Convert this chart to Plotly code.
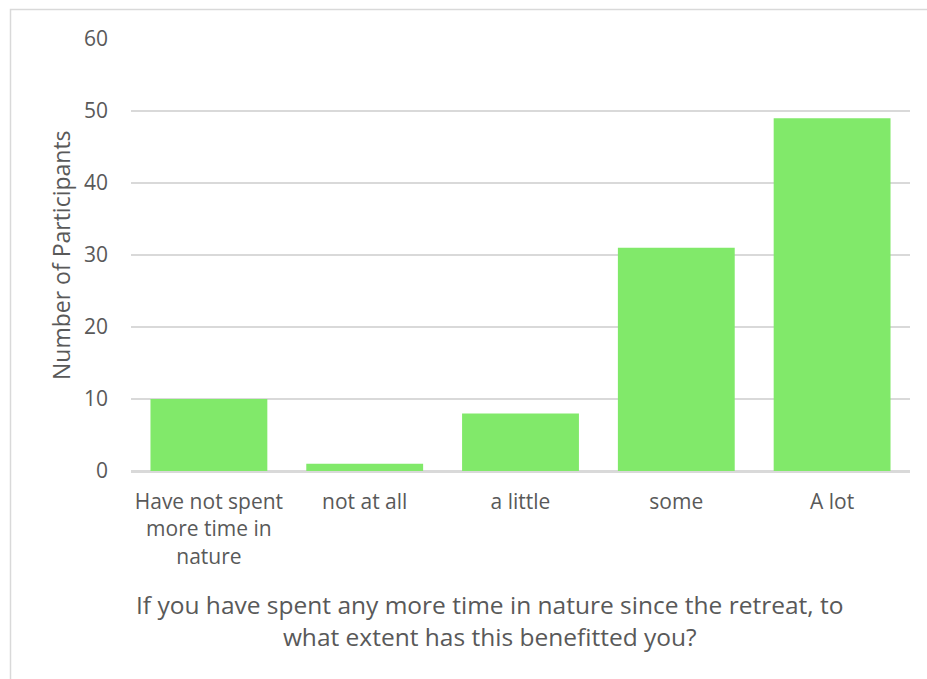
import plotly.graph_objects as go

# Survey responses
categories = [
    "Have not spent<br>more time in<br>nature",
    "not at all",
    "a little",
    "some",
    "A lot",
]
participants = [10, 1, 8, 31, 49]
y_ticks = [0, 10, 20, 30, 40, 50, 60]

x_title = ("If you have spent any more time in nature since the retreat, to<br>"
           "what extent has this benefitted you?")
y_title = "Number of Participants"

FONT = "Open Sans"
TEXT = "#595959"
GRID = "#D9D9D9"

W, H = 927, 679
L, R, T, B = 131, 17, 39, 208
pw, ph = W - L - R, H - T - B


def px_x(p):
    return (p - L) / pw


def px_y(p):
    return (H - B - p) / ph


fig = go.Figure(
    go.Bar(
        x=categories,
        y=participants,
        marker=dict(color="#81E96A", line=dict(width=0)),
        hoverinfo="x+y",
    )
)

fig.update_layout(
    width=W,
    height=H,
    margin=dict(l=L, r=R, t=T, b=B, autoexpand=False),
    paper_bgcolor="white",
    plot_bgcolor="white",
    bargap=0.25,
    showlegend=False,
    font=dict(family=FONT, color=TEXT, size=21),
    xaxis=dict(
        showgrid=False,
        showline=True,
        linecolor=GRID,
        linewidth=1.5,
        ticks="",
        tickfont=dict(size=21, color=TEXT),
        ticklabelstandoff=11,
        automargin=False,
    ),
    yaxis=dict(
        range=[0, 60],
        tickvals=y_ticks,
        showgrid=True,
        gridcolor=GRID,
        gridwidth=1.5,
        zeroline=True,
        zerolinecolor=GRID,
        zerolinewidth=1.5,
        showline=False,
        ticks="",
        tickfont=dict(size=21, color=TEXT),
        ticklabelstandoff=22,
        automargin=False,
    ),
    shapes=[
        dict(
            type="rect",
            xref="paper",
            yref="paper",
            x0=px_x(10.5),
            x1=px_x(940),
            y0=px_y(700),
            y1=px_y(9.5),
            line=dict(color=GRID, width=1.5),
            fillcolor="rgba(0,0,0,0)",
            layer="below",
        )
    ],
    annotations=[
        dict(
            text=x_title,
            xref="paper",
            yref="paper",
            x=px_x(489),
            y=px_y(620),
            xanchor="center",
            yanchor="middle",
            showarrow=False,
            font=dict(size=24.5, color=TEXT, family=FONT),
        ),
        dict(
            text=y_title,
            xref="paper",
            yref="paper",
            x=px_x(61),
            y=px_y(255),
            xanchor="center",
            yanchor="middle",
            textangle=-90,
            showarrow=False,
            font=dict(size=23, color=TEXT, family=FONT),
        ),
    ],
)

fig.write_html("out.html")
